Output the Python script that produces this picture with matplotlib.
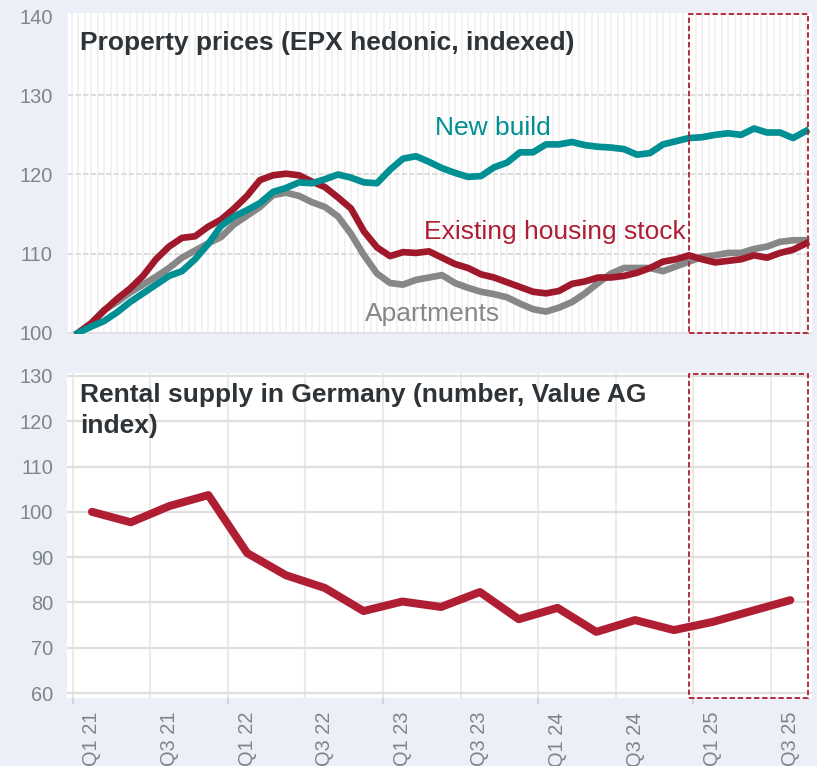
import matplotlib
matplotlib.use("Agg")
import matplotlib.pyplot as plt
import matplotlib.transforms as mtransforms
from matplotlib.patches import Rectangle
import numpy as np

plt.rcParams['font.family'] = ['Liberation Sans', 'DejaVu Sans']

# ---------------- data ----------------
months = list(range(57))  # Jan 2021 .. Sep 2025 (monthly)
new_build = [100, 100.8, 101.5, 102.6, 103.9, 105.0, 106.1, 107.2, 107.8, 109.3,
             111.2, 113.5, 114.7, 115.5, 116.4, 117.8, 118.3, 119.0, 118.9, 119.4,
             120.0, 119.6, 119.0, 118.9, 120.6, 122.0, 122.3, 121.6, 120.8, 120.2,
             119.7, 119.8, 120.9, 121.5, 122.8, 122.8, 123.8, 123.8, 124.1, 123.7,
             123.5, 123.4, 123.2, 122.5, 122.7, 123.8, 124.2, 124.6, 124.7, 125.0,
             125.2, 125.0, 125.8, 125.3, 125.3, 124.6, 125.5]
existing = [100, 101.2, 102.8, 104.3, 105.6, 107.2, 109.3, 110.9, 112.0, 112.2,
            113.4, 114.3, 115.7, 117.3, 119.3, 119.9, 120.1, 119.9, 119.1, 118.4,
            117.1, 115.7, 112.8, 110.8, 109.7, 110.2, 110.1, 110.3, 109.5, 108.7,
            108.2, 107.4, 107.0, 106.4, 105.8, 105.2, 105.0, 105.3, 106.2, 106.5,
            107.0, 107.0, 107.2, 107.6, 108.2, 109.0, 109.3, 109.8, 109.3, 108.9,
            109.1, 109.3, 109.8, 109.5, 110.1, 110.5, 111.3]
apartments = [100, 101.2, 102.9, 103.9, 105.1, 106.1, 107.1, 108.2, 109.5, 110.4,
              111.3, 112.1, 113.7, 114.8, 115.9, 117.4, 117.7, 117.3, 116.5, 115.9,
              114.7, 112.5, 109.8, 107.5, 106.3, 106.1, 106.7, 107.0, 107.3, 106.3,
              105.7, 105.2, 104.9, 104.5, 103.7, 103.0, 102.7, 103.2, 103.9, 105.0,
              106.3, 107.5, 108.2, 108.2, 108.2, 107.8, 108.4, 109.0, 109.6, 109.8,
              110.1, 110.1, 110.6, 110.9, 111.5, 111.7, 111.7]

quarters = ["Q1 21", "Q2 21", "Q3 21", "Q4 21", "Q1 22", "Q2 22", "Q3 22", "Q4 22",
            "Q1 23", "Q2 23", "Q3 23", "Q4 23", "Q1 24", "Q2 24", "Q3 24", "Q4 24",
            "Q1 25", "Q2 25", "Q3 25"]
rental = [100, 97.7, 101.3, 103.7, 90.9, 86.0, 83.2, 78.1, 80.2, 79.0,
          82.3, 76.3, 78.8, 73.5, 76.1, 73.9, 75.7, 78.1, 80.5]

top_title = "Property prices (EPX hedonic, indexed)"
bottom_title_1 = "Rental supply in Germany (number, Value AG"
bottom_title_2 = "index)"

# ---------------- styling ----------------
W, H = 817, 766
BG = "#ECEFF7"
TEAL = "#008F92"
RED = "#A0192B"
RED2 = "#B01E33"
GRAY = "#878787"
TICK = "#7D858C"
TITLE = "#2E3337"

fig = plt.figure(figsize=(W / 100, H / 100), dpi=100, facecolor=BG)


def add_ax(x0, y0, x1, y1):
    return fig.add_axes([x0 / W, 1 - y1 / H, (x1 - x0) / W, (y1 - y0) / H])


# ---------------- top chart ----------------
ax1 = add_ax(68, 13, 812, 334)
ax1.set_facecolor("white")
ax1.set_xlim(-0.77, 56.46)
ax1.set_ylim(99.87, 140.38)
for xv in np.arange(-0.5, 56.6, 0.5):
    ax1.axvline(xv, color="#F1F1F1", lw=1.3, zorder=0)
for yv in [110, 120, 130]:
    ax1.axhline(yv, color="#DADADA", lw=1.3, ls=(0, (3, 1.2)), zorder=1)
ax1.axhline(100, color="#E0E0E0", lw=1.3, zorder=1)

ax1.plot(months, apartments, color=GRAY, lw=4.8, zorder=3, solid_joinstyle="round")
ax1.plot(months, existing, color=RED, lw=4.8, zorder=4, solid_joinstyle="round")
ax1.plot(months, new_build, color=TEAL, lw=4.8, zorder=5, solid_joinstyle="round")

ax1.set_yticks([100, 110, 120, 130, 140])
ax1.set_xticks([])
ax1.tick_params(axis="y", length=0, pad=11, labelsize=14.4, labelcolor=TICK)
for s in ax1.spines.values():
    s.set_visible(False)

trans1 = mtransforms.blended_transform_factory(ax1.transData, ax1.transAxes)
ax1.add_patch(Rectangle((47.0, 0.003), 56.15 - 47.0, 0.994, transform=trans1,
                        fill=False, ec=RED2, lw=1.3, ls=(0, (3, 1.5)),
                        clip_on=False, zorder=6))

# ---------------- bottom chart ----------------
ax2 = add_ax(67, 373, 812, 698)
ax2.set_facecolor("white")
xq = np.arange(len(quarters))
ax2.set_xlim(-0.644, 18.56)
ax2.set_ylim(58.9, 130.66)
for xv in np.arange(-0.5, 18, 2):
    ax2.axvline(xv, color="#EAEAEA", lw=1.5, zorder=0)
for yv in range(60, 131, 10):
    ax2.axhline(yv, color="#E0E0E0", lw=1.6, zorder=1)

ax2.plot(xq, rental, color=RED2, lw=5.8, zorder=4, solid_joinstyle="round",
         solid_capstyle="round")

ax2.set_yticks(range(60, 131, 10))
ax2.set_xticks(xq[::2])
ax2.set_xticklabels(quarters[::2], rotation=90)
ax2.tick_params(axis="y", length=0, pad=10, labelsize=14.4, labelcolor=TICK)
ax2.tick_params(axis="x", length=0, pad=10, labelsize=14.4, labelcolor=TICK)
ax2.set_xticks(np.arange(-0.5, 18, 4), minor=True)
ax2.tick_params(axis="x", which="minor", length=4, width=1.2, color="#CFCFCF")
for s in ax2.spines.values():
    s.set_visible(False)

trans2 = mtransforms.blended_transform_factory(ax2.transData, ax2.transAxes)
ax2.add_patch(Rectangle((15.4, 0.0), 18.45 - 15.4, 0.997, transform=trans2,
                        fill=False, ec=RED2, lw=1.3, ls=(0, (3, 1.5)),
                        clip_on=False, zorder=6))

# ---------------- texts ----------------
def ftext(px, py, s, **kw):
    fig.text(px / W, 1 - py / H, s, **kw)


ftext(80, 50, top_title, fontsize=19, fontweight="bold", color=TITLE, va="baseline")
ftext(80, 402, bottom_title_1, fontsize=19, fontweight="bold", color=TITLE, va="baseline")
ftext(80, 433, bottom_title_2, fontsize=19, fontweight="bold", color=TITLE, va="baseline")

ftext(435, 135, "New build", fontsize=19, color=TEAL, va="baseline")
ftext(424, 239, "Existing housing stock", fontsize=19, color=RED2, va="baseline")
ftext(365, 321, "Apartments", fontsize=19, color=GRAY, va="baseline")

fig.savefig("out.png", dpi=100, facecolor=BG)
